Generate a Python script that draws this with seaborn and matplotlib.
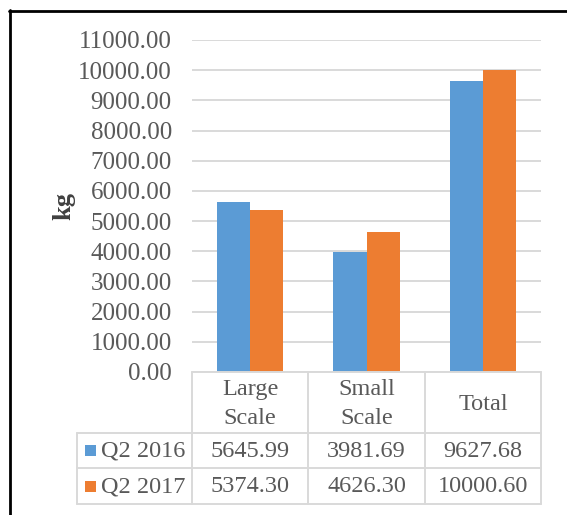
import matplotlib
matplotlib.use("Agg")
import matplotlib.pyplot as plt
import seaborn as sns
import pandas as pd
from matplotlib.lines import Line2D
from matplotlib.patches import Rectangle

# Data
categories = ["Large\nScale", "Small\nScale", "Total"]
series_names = ["Q2 2016", "Q2 2017"]
q2_2016 = [5645.99, 3981.69, 9627.68]
q2_2017 = [5374.30, 4626.30, 10000.60]
colors = ["#5B9BD5", "#ED7D31"]
y_ticks = [0, 1000, 2000, 3000, 4000, 5000, 6000, 7000, 8000, 9000, 10000, 11000]

df = pd.DataFrame({
    "category": categories * 2,
    "series": [series_names[0]] * 3 + [series_names[1]] * 3,
    "value": q2_2016 + q2_2017,
})

sns.set_theme(style="white")
plt.rcParams["font.family"] = ["Liberation Serif", "DejaVu Serif"]

W, H = 567, 515
fig = plt.figure(figsize=(W / 100, H / 100), dpi=100)

# plot area in pixel coordinates
left, right, top, bottom = 192, 541, 40, 372
ax = fig.add_axes([left / W, 1 - bottom / H, (right - left) / W, (bottom - top) / H])

sns.barplot(data=df, x="category", y="value", hue="series", order=categories,
            hue_order=series_names, palette=colors, width=0.57, linewidth=0,
            saturation=1, legend=False, ax=ax)

text_color = "#595959"
ax.set_ylim(0, 11000)
ax.set_xlim(-0.5, 2.5)
ax.set_yticks(y_ticks)
ax.set_yticklabels([f"{v:.2f}" for v in y_ticks], fontsize=18, color=text_color)
ax.tick_params(axis="y", length=0, pad=14.5)
ax.set_xticks([])
ax.set_xlabel("")
ax.set_ylabel("kg", fontsize=19, fontweight="bold", color="#404040")
ax.yaxis.set_label_coords((75 - left) / (right - left), 0.5)
ax.yaxis.grid(True, color="#d9d9d9", linewidth=1.4)
ax.set_axisbelow(True)
for s in ax.spines.values():
    s.set_visible(False)


def fx(x):
    return x / W


def fy(y):
    return 1 - y / H


def hline(y, x0, x1, color="#d9d9d9", lw=1.4):
    fig.add_artist(Line2D([fx(x0), fx(x1)], [fy(y), fy(y)], color=color, lw=lw,
                          transform=fig.transFigure))


def vline(x, y0, y1, color="#d9d9d9", lw=1.4):
    fig.add_artist(Line2D([fx(x), fx(x)], [fy(y0), fy(y1)], color=color, lw=lw,
                          transform=fig.transFigure))


# data table below the plot
col_edges = [192, 308, 425, 541]
row_edges = [372, 433, 468, 504]
table_left = 77
hline(row_edges[0], col_edges[0], col_edges[-1])
for y in row_edges[1:]:
    hline(y, table_left, col_edges[-1])
for x in col_edges:
    vline(x, row_edges[0], row_edges[-1])
vline(table_left, row_edges[1], row_edges[-1])

for i, cat in enumerate(categories):
    cx = (col_edges[i] + col_edges[i + 1]) / 2
    fig.text(fx(cx), fy(404), cat, ha="center", va="center", fontsize=17.5,
             color=text_color, linespacing=1.45)

for r, (name, vals) in enumerate(zip(series_names, [q2_2016, q2_2017])):
    cy = (row_edges[r + 1] + row_edges[r + 2]) / 2
    fig.add_artist(Rectangle((fx(85), fy(cy + 5.5)), 11 / W, 11 / H,
                             facecolor=colors[r], edgecolor="none",
                             transform=fig.transFigure))
    fig.text(fx(101), fy(cy + 1), name, ha="left", va="center", fontsize=17.5,
             color=text_color)
    for i, v in enumerate(vals):
        cx = (col_edges[i] + col_edges[i + 1]) / 2
        fig.text(fx(cx), fy(cy + 1), f"{v:.2f}", ha="center", va="center",
                 fontsize=17.5, color=text_color)

# outer frame
hline(10.5, 9, W, color="black", lw=2)
vline(9.5, 10, H, color="black", lw=2)

fig.savefig("out.png", dpi=100)
